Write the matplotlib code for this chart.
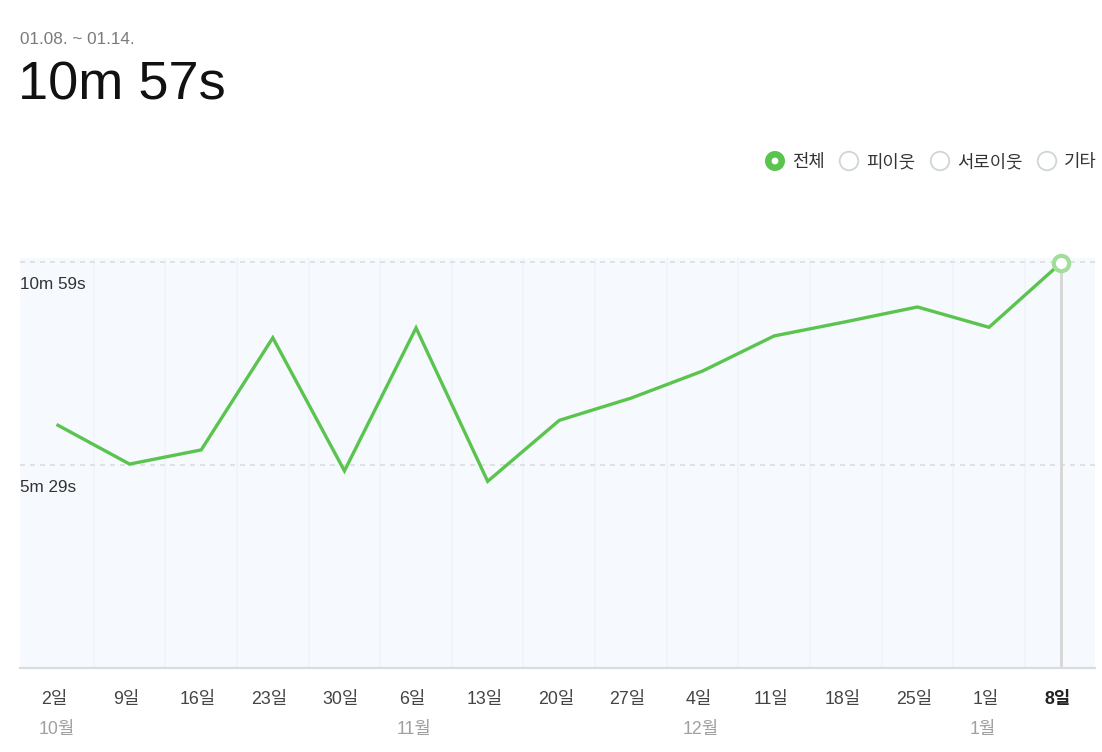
"""Weekly average visit time chart (line with highlighted last week)."""

import matplotlib
matplotlib.use("Agg")
import matplotlib.pyplot as plt
from matplotlib.patches import Circle

plt.rcParams["font.family"] = ["Liberation Sans", "Noto Sans CJK KR", "DejaVu Sans"]

# data: average time per week, in seconds
day_labels = ["2일", "9일", "16일", "23일", "30일", "6일", "13일", "20일",
              "27일", "4일", "11일", "18일", "25일", "1일", "8일"]
month_labels = {0: "10월", 5: "11월", 9: "12월", 13: "1월"}
seconds = [394, 331, 354, 536, 320, 552, 303, 402,
           438, 482, 539, 562, 586, 553, 657]
y_ticks = [659, 329.5]
y_tick_labels = ["10m 59s", "5m 29s"]
legend_items = ["전체", "피이웃", "서로이웃", "기타"]
period = "01.08. ~ 01.14."
headline = "10m 57s"

GREEN = "#5bc44f"
W, H = 1102, 752

fig = plt.figure(figsize=(W / 100, H / 100), dpi=100)
ax = fig.add_axes([20 / W, 84 / H, 1075 / W, 410 / H])
ax.set_facecolor("#f6f9fd")

n = len(seconds)
x = list(range(n))
ax.set_xlim(-0.53, n - 0.52)
ax.set_ylim(0, 659 * 410 / 406)

# vertical stripe lines between weeks
for i in range(n - 1):
    ax.axvline(i + 0.5, color="#eff5fb", lw=1.2, zorder=1)

# dashed horizontal gridlines + inside labels
for yv, lab in zip(y_ticks, y_tick_labels):
    ax.axhline(yv, color="#dddddd", lw=1.2, ls=(0, (3, 3)), zorder=2)
    ax.annotate(lab, xy=(0, yv), xycoords=("axes fraction", "data"),
                xytext=(0, -10.5), textcoords="offset points",
                ha="left", va="top", fontsize=12.3, color="#333333")

# highlight of last week
ax.plot([x[-1], x[-1]], [0, seconds[-1]], color="#d6d6d6", lw=2, zorder=2)
ax.plot(x, seconds, color=GREEN, lw=2.4, zorder=3, solid_joinstyle="miter")
ax.plot(x[-1], seconds[-1], marker="o", ms=11, mfc="white", mec="#a3dd9c",
        mew=3, zorder=4, clip_on=False)

for s in ["top", "left", "right"]:
    ax.spines[s].set_visible(False)
ax.spines["bottom"].set_color("#d8dcdf")
ax.spines["bottom"].set_linewidth(1.6)
ax.set_xticks([])
ax.set_yticks([])

# x labels
for i, lab in enumerate(day_labels):
    bold = i == n - 1
    ax.annotate(lab, xy=(i, 0), xycoords="data", xytext=(-2.5, -22.5),
                textcoords="offset points", ha="center", va="center",
                fontsize=12.8, color="#222222" if bold else "#444444",
                fontweight="bold" if bold else "normal", annotation_clip=False)
for i, lab in month_labels.items():
    off = -14 if len(day_labels[i]) == 2 else -18
    ax.annotate(lab, xy=(i, 0), xycoords="data", xytext=(off, -44),
                textcoords="offset points", ha="left", va="center",
                fontsize=12.8, color="#a0a0a0", annotation_clip=False)

# header
fig.text(20 / W, 1 - 39 / H, period, fontsize=12.3, color="#7a7a7a",
         ha="left", va="center")
fig.text(18 / W, 1 - 85 / H, headline, fontsize=39, color="#111111",
         ha="left", va="center")

# legend (radio buttons)
radio_x = [775, 849, 940, 1047]
radio_y = 161
for k, (rx, lab) in enumerate(zip(radio_x, legend_items)):
    if k == 0:
        fig.patches.append(Circle((rx, H - radio_y), 10, transform=None,
                                  facecolor=GREEN, edgecolor=GREEN, lw=0))
        fig.patches.append(Circle((rx, H - radio_y), 3.4, transform=None,
                                  facecolor="white", edgecolor="white", lw=0))
    else:
        fig.patches.append(Circle((rx, H - radio_y), 9.3, transform=None,
                                  facecolor="white", edgecolor="#cfd6d8", lw=1.3))
    fig.text((rx + 17) / W, 1 - (radio_y + 2) / H, lab, fontsize=12.8,
             color="#333333", ha="left", va="center")

fig.savefig("out.png", dpi=100, facecolor="white")
